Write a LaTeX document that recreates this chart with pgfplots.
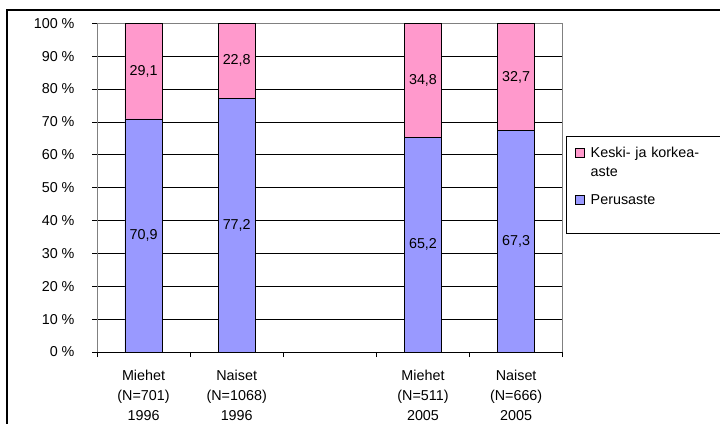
\documentclass[border=0pt]{standalone}
\usepackage{fontspec}
\setmainfont{Liberation Sans}
\usepackage{pgfplots}
\usepackage{pgfplotstable}
\pgfplotsset{compat=1.18}

\definecolor{perus}{RGB}{153,153,255}
\definecolor{keski}{RGB}{255,153,204}
\definecolor{framegray}{RGB}{128,128,128}

% Koulutustaso sukupuolen ja vuoden mukaan (%)
\pgfplotstableread{
x  perus  keski
0  70.9   29.1
1  77.2   22.8
3  65.2   34.8
4  67.3   32.7
}\koulutus

\newcommand{\chartfont}{\fontsize{14.4}{20}\selectfont}

\begin{document}
\begin{tikzpicture}[x=1bp,y=1bp]
\useasboundingbox (0,0) rectangle (720,423);
\draw[line width=1.5bp] (7,-20) -- (7,413) -- (760,413);
\begin{axis}[
  at={(97bp,71bp)}, anchor=south west,
  scale only axis, width=465.7bp, height=328.7bp,
  ybar stacked, bar width=37.3bp,
  xmin=-0.5, xmax=4.5, ymin=0, ymax=100,
  axis x line*=bottom, axis y line*=left,
  x axis line style={black, line width=0.8bp},
  y axis line style={framegray, line width=0.8bp},
  /pgf/number format/assume math mode=true,
  tick label style={font=\chartfont},
  xtick={-0.5,0.5,1.5,2.5,3.5,4.5}, xticklabels={},
  extra x ticks={0,1,3,4},
  extra x tick labels={{Miehet\\(N=701)\\1996},{Naiset\\(N=1068)\\1996},{Miehet\\(N=511)\\2005},{Naiset\\(N=666)\\2005}},
  extra x tick style={major tick length=0pt, xmajorgrids=false},
  xticklabel style={align=center, yshift=-15bp},
  ytick={0,10,...,100},
  yticklabel={\pgfmathprintnumber{\tick}~\%},
  yticklabel style={xshift=-14bp},
  ymajorgrids, major grid style={black, line width=0.8bp},
  tick align=outside, major tick length=5bp,
  tick style={black, line width=0.8bp},
  enlargelimits=false, clip=false,
  % stacked value labels sit in the middle of each segment
  nodes near coords={\pgfmathprintnumber[fixed,fixed zerofill,precision=1,use comma]{\pgfplotspointmeta}},
  every node near coord/.append style={anchor=center, font=\chartfont},
  legend image code/.code={\draw[#1, line width=0.8bp] (0bp,0.5bp) rectangle (9bp,9.5bp);},
  legend style={at={(1.0071,0.6571)}, anchor=north west, draw=black, line width=0.8bp,
    font=\fontsize{14.4}{19}\selectfont, inner xsep=8.5bp, inner ysep=8bp,
    row sep=0pt, column sep=5bp,
    cells={anchor=base west},
    nodes={text width=160bp, text height=10.5bp, text depth=3.5bp, inner xsep=1bp, inner ysep=2.5bp}},
]
% legend rows: the first entry wraps onto a second line
\addlegendimage{fill=keski, draw=black}
\addlegendentry{Keski- ja korkea-}
\addlegendimage{empty legend}
\addlegendentry[text depth=12.5bp]{aste}
\addlegendimage{fill=perus, draw=black}
\addlegendentry[text depth=18.5bp]{Perusaste}
\addplot[fill=perus, draw=black, line width=0.8bp, point meta=explicit]
  table[x=x, y=perus, meta=perus]{\koulutus};
\addplot[fill=keski, draw=black, line width=0.8bp, point meta=explicit]
  table[x=x, y=keski, meta=keski]{\koulutus};
\draw[framegray, line width=0.8bp] (rel axis cs:0,1) -- (rel axis cs:1,1) -- (rel axis cs:1,0);
\end{axis}
\end{tikzpicture}
\end{document}
